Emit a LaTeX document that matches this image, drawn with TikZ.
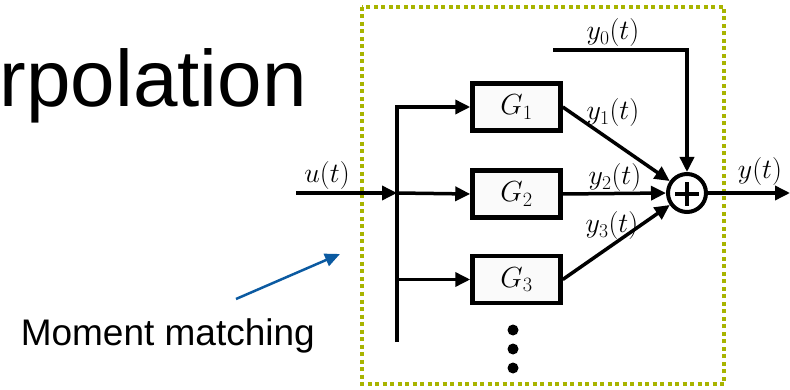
\RequirePackage{fix-cm}
\documentclass[tikz,border=0pt]{standalone}
\usepackage[no-math]{fontspec}
\setmainfont{Liberation Sans}
\usetikzlibrary{arrows.meta}
\definecolor{boxolive}{HTML}{A8B400}
\definecolor{noteblue}{HTML}{0B5AA1}
\begin{document}
\begin{tikzpicture}[x=1pt,y=-1pt,line width=3.5pt,
  blk/.style={draw=black,line width=4.5pt,fill=black!2,minimum width=88pt,minimum height=47pt,inner sep=0pt,font=\fontsize{29}{33}\selectfont},
  arr/.style={-{Triangle[length=15pt,width=14pt]},line width=3.5pt},
  lab/.style={inner sep=0pt,font=\fontsize{28}{32}\selectfont},
  dotbox/.style={draw=boxolive,line width=4pt,dash pattern=on 4pt off 3.5pt},
  note/.style={-{Triangle[length=15pt,width=13pt]},line width=2.5pt,draw=noteblue}]
\useasboundingbox (0,0) rectangle (790,390);
\node[anchor=base west,inner sep=0pt,font=\fontsize{80}{90}\selectfont] (title) at (-2,107) {rpolation};
\node[anchor=base west,inner sep=0pt,font=\fontsize{37}{42}\selectfont] (mm) at (19,345) {Moment matching};
\draw[dotbox] (362,7) rectangle (724,384);
\node[blk] (G1) at (516.5,107) {$G_1$};
\node[blk] (G2) at (516.5,194) {$G_2$};
\node[blk] (G3) at (516.5,279.5) {$G_3$};
\node[circle,draw,line width=4pt,minimum size=38pt,inner sep=0pt] (S) at (687,193) {};
\draw[line width=4pt] ([xshift=-12pt,yshift=-1.5pt]S.center) -- ([xshift=12pt,yshift=-1.5pt]S.center);
\draw[line width=4pt] ([yshift=10.5pt]S.center) -- ([yshift=-13.5pt]S.center);
\coordinate (in) at (296,193);
\coordinate (bus) at (397,193);
\coordinate (bb) at (397,342);
\coordinate (b3) at (397,279.5);
\coordinate (y0s) at (553,50);
\coordinate (out) at (790,193);
\draw[arr] (in) -- (bus);
\draw[arr] (bb) |- (G1.west);
\draw[arr] (bus) -- (G2.west);
\draw[arr] (b3) -- (G3.west);
\draw[arr] (G1.east) -- (S);
\draw[arr] (G2.east) -- (S.west);
\draw[arr] (G3.east) -- (S);
\draw[arr] (y0s) -| (S.north);
\draw[arr] (S.east) -- (out);
\node[lab] (lu) at (327,176) {$u(t)$};
\node[lab] (l0) at (613,33) {$y_0(t)$};
\node[lab] (l1) at (613,113) {$y_1(t)$};
\node[lab] (l2) at (615,178) {$y_2(t)$};
\node[lab] (l3) at (612,226) {$y_3(t)$};
\node[lab] (ly) at (760,172) {$y(t)$};
\fill (513,330) circle (5.5);
\fill (513,349) circle (5.5);
\fill (513,368) circle (5.5);
\coordinate (ns) at (236,299);
\coordinate (ne) at (340,254);
\draw[note] (ns) -- (ne);
\end{tikzpicture}
\end{document}
